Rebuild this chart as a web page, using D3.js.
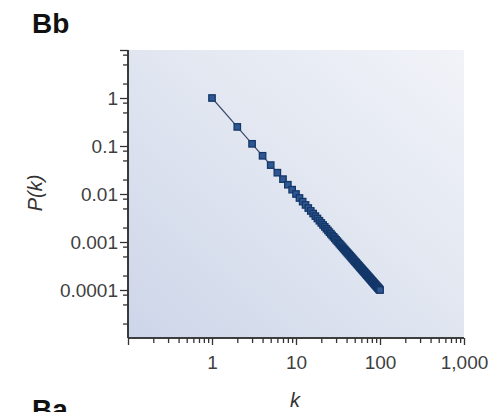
<!DOCTYPE html>
<html><head><meta charset="utf-8">
<script src="https://cdn.jsdelivr.net/npm/d3@7"></script>
<style>html,body{margin:0;padding:0;background:#fff;overflow:hidden}</style>
</head><body>
<svg id="c" width="491" height="412"></svg>
<script>
const kValues = [1,2,3,4,5,6,7,8,9,10,11,12,13,14,15,16,17,18,19,20,21,22,23,24,25,26,27,28,29,30,31,32,33,34,35,36,37,38,39,40,41,42,43,44,45,46,47,48,49,50,51,52,53,54,55,56,57,58,59,60,61,62,63,64,65,66,67,68,69,70,71,72,73,74,75,76,77,78,79,80,81,82,83,84,85,86,87,88,89,90,91,92,93,94,95,96,97,98,99,100];
const pValues = [1,0.25,0.111,0.0625,0.04,0.0278,0.0204,0.0156,0.0123,0.01,
0.00826,0.00694,0.00592,0.0051,0.00444,0.00391,0.00346,0.00309,0.00277,0.0025,
0.00227,0.00207,0.00189,0.00174,0.0016,0.00148,0.00137,0.00128,0.00119,0.00111,
0.00104,0.000977,0.000918,0.000865,0.000816,0.000772,0.00073,0.000693,0.000657,0.000625,
0.000595,0.000567,0.000541,0.000517,0.000494,0.000473,0.000453,0.000434,0.000416,0.0004,
0.000384,0.00037,0.000356,0.000343,0.000331,0.000319,0.000308,0.000297,0.000287,0.000278,
0.000269,0.00026,0.000252,0.000244,0.000237,0.00023,0.000223,0.000216,0.00021,0.000204,
0.000198,0.000193,0.000188,0.000183,0.000178,0.000173,0.000169,0.000164,0.00016,0.000156,
0.000152,0.000149,0.000145,0.000142,0.000138,0.000135,0.000132,0.000129,0.000126,0.000123,
0.000121,0.000118,0.000116,0.000113,0.000111,0.000109,0.000106,0.000104,0.000102,0.0001];
const xTickValues = [1,10,100,1000];
const xTickLabels = ["1","10","100","1,000"];
const yTickValues = [1,0.1,0.01,0.001,0.0001];
const yTickLabels = ["1","0.1","0.01","0.001","0.0001"];

const svg = d3.select("#c");
const L=128, R=464, T=50, B=338;
const x = d3.scaleLog().domain([0.1,1000]).range([L,R]);
const y = d3.scaleLog().domain([1e-5,10]).range([B,T]);

const defs = svg.append("defs");
const g = defs.append("linearGradient").attr("id","bg").attr("x1","0").attr("y1","1").attr("x2","1").attr("y2","0");
g.append("stop").attr("offset","0").attr("stop-color","#cdd6e9");
g.append("stop").attr("offset","0.55").attr("stop-color","#e2e7f1");
g.append("stop").attr("offset","1").attr("stop-color","#f1f3f8");
svg.append("rect").attr("x",L).attr("y",T).attr("width",R-L).attr("height",B-T).attr("fill","url(#bg)");

const xMinor=[], yMinor=[];
for (let e=-1;e<3;e++) for (let m=2;m<=9;m++) xMinor.push(m*Math.pow(10,e));
for (let e=-5;e<1;e++) for (const m of [2,5,8]) yMinor.push(m*Math.pow(10,e));
const axisCol="#333";
const gx = svg.append("g").attr("transform",`translate(0,${B})`);
gx.call(d3.axisBottom(x).tickValues(xMinor).tickSize(5).tickFormat(""));
gx.append("g").call(d3.axisBottom(x).tickValues(xTickValues.concat([0.1])).tickSize(7).tickPadding(11).tickFormat(d=>{const i=xTickValues.indexOf(d);return i<0?"":xTickLabels[i];}));
const gy = svg.append("g").attr("transform",`translate(${L},0)`);
gy.call(d3.axisLeft(y).tickValues(yMinor).tickSize(5).tickFormat(""));
gy.append("g").call(d3.axisLeft(y).tickValues(yTickValues.concat([10])).tickSize(8).tickPadding(2).tickFormat(d=>{const i=yTickValues.indexOf(d);return i<0?"":yTickLabels[i];}));
svg.selectAll(".domain").attr("stroke",axisCol).attr("stroke-width",1.6);
svg.selectAll(".tick line").attr("stroke",axisCol).attr("stroke-width",1.3);
svg.selectAll(".tick text").attr("fill","#3f3f3f").attr("font-family","Liberation Sans, Arial, sans-serif").attr("font-size",19);
gx.selectAll(".domain").attr("d",`M${L},0H${R}`);
gy.selectAll(".domain").attr("d",`M0,${T}V${B}`);

const data = kValues.map((k,i)=>({k,p:pValues[i]}));
svg.append("path").datum(data).attr("fill","none").attr("stroke","#3b4a6b").attr("stroke-width",1.2)
  .attr("d",d3.line().x(d=>x(d.k)).y(d=>y(d.p)));
svg.append("g").selectAll("rect").data(data).join("rect")
  .attr("x",d=>x(d.k)-3.2).attr("y",d=>y(d.p)-3.2).attr("width",6.4).attr("height",6.4)
  .attr("fill","#2f5892").attr("stroke","#143769").attr("stroke-width",1.3);

svg.append("text").attr("x",32).attr("y",33).attr("font-family","Liberation Sans, Arial, sans-serif").attr("font-weight","bold").attr("font-size",28).attr("fill","#111").text("Bb");
svg.append("text").attr("x",32).attr("y",419).attr("font-family","Liberation Sans, Arial, sans-serif").attr("font-weight","bold").attr("font-size",28).attr("fill","#111").text("Ba");
svg.append("text").attr("x",295).attr("y",407).attr("text-anchor","middle").attr("font-family","Liberation Sans, Arial, sans-serif").attr("font-style","italic").attr("font-size",20).attr("fill","#333").text("k");
svg.append("text").attr("transform","translate(42,193) rotate(-90)").attr("text-anchor","middle").attr("font-family","Liberation Sans, Arial, sans-serif").attr("font-style","italic").attr("font-size",20).attr("fill","#333").text("P(k)");
</script>
</body></html>
